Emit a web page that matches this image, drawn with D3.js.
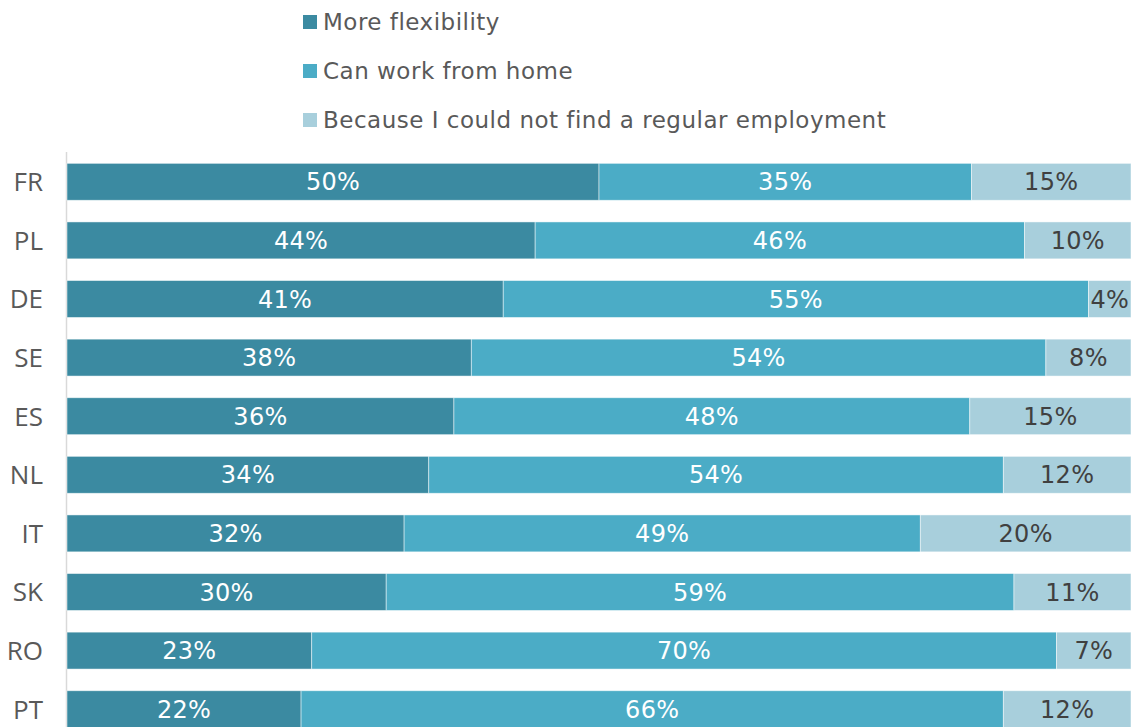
<!DOCTYPE html>
<html>
<head>
<meta charset="utf-8">
<script src="https://cdn.jsdelivr.net/npm/d3@7"></script>
<style>
  body { margin: 0; background: #fff; overflow: hidden; }
</style>
</head>
<body>
<div id="my_dataviz"></div>
<script>
// chart data
var countries = ["FR", "PL", "DE", "SE", "ES", "NL", "IT", "SK", "RO", "PT"];
var seriesNames = ["More flexibility", "Can work from home", "Because I could not find a regular employment"];
var flexibility = [50, 44, 41, 38, 36, 34, 32, 30, 23, 22];
var workFromHome = [35, 46, 55, 54, 48, 54, 49, 59, 70, 66];
var noRegularJob = [15, 10, 4, 8, 15, 12, 20, 11, 7, 12];
var colors = ["#3B8AA1", "#4BACC6", "#A8CFDC"];
var labelColors = ["#ffffff", "#ffffff", "#404040"];

var width = 1131, height = 727;

var svg = d3.select("#my_dataviz")
  .append("svg")
    .attr("width", width)
    .attr("height", height);

// build rows
var data = countries.map(function(c, i) {
  return {country: c, values: [flexibility[i], workFromHome[i], noRegularJob[i]]};
});

var yscale = d3.scaleBand()
  .domain(countries)
  .range([152.5, 152.5 + 58.6 * countries.length])
  .paddingInner(0.37)
  .paddingOuter(0.185);

var xscale = d3.scaleLinear()
  .domain([0, 1])
  .range([67, 1131]);

// axis line
svg.append("line")
  .attr("x1", 66.5).attr("x2", 66.5)
  .attr("y1", 152).attr("y2", height)
  .attr("stroke", "#d9d9d9")
  .attr("stroke-width", 1.5);

var rows = svg.append("g")
  .selectAll("g")
  .data(data)
  .enter().append("g")
    .attr("transform", function(d) { return "translate(0," + yscale(d.country) + ")"; });

var segs = rows.selectAll("g")
  .data(function(d) {
    var total = d3.sum(d.values), acc = 0;
    return d.values.map(function(v, k) {
      var s = {k: k, v: v, x0: acc / total, x1: (acc + v) / total};
      acc += v;
      return s;
    });
  })
  .enter().append("g");

segs.append("rect")
  .attr("x", function(d) { return xscale(d.x0); })
  .attr("y", 0)
  .attr("width", function(d) { return xscale(d.x1) - xscale(d.x0); })
  .attr("height", yscale.bandwidth())
  .attr("fill", function(d) { return colors[d.k]; })
  .attr("stroke", "#ffffff")
  .attr("stroke-opacity", 0.6)
  .attr("stroke-width", 0.8);

segs.append("text")
  .attr("x", function(d) { return (xscale(d.x0) + xscale(d.x1)) / 2; })
  .attr("y", yscale.bandwidth() / 2)
  .attr("dy", "0.36em")
  .attr("text-anchor", "middle")
  .style("font-family", "'DejaVu Sans', Verdana, sans-serif")
  .style("font-size", "24px")
  .style("letter-spacing", "0.3px")
  .attr("fill", function(d) { return labelColors[d.k]; })
  .text(function(d) { return d.v + "%"; });

// category labels
svg.append("g")
  .selectAll("text")
  .data(countries)
  .enter().append("text")
    .attr("x", 43)
    .attr("y", function(d) { return yscale(d) + yscale.bandwidth() / 2; })
    .attr("dy", "0.36em")
    .attr("text-anchor", "end")
    .style("font-family", "'Open Sans', sans-serif")
    .style("font-size", "26px")
    .attr("fill", "#595959")
    .text(function(d) { return d; });

// legend
var legend = svg.append("g")
  .selectAll("g")
  .data(seriesNames)
  .enter().append("g")
    .attr("transform", function(d, i) { return "translate(303," + (22 + i * 49) + ")"; });

legend.append("rect")
  .attr("x", 0).attr("y", -7)
  .attr("width", 14).attr("height", 14)
  .attr("fill", function(d, i) { return colors[i]; });

legend.append("text")
  .attr("x", 20)
  .attr("y", 0)
  .attr("dy", "0.36em")
  .style("font-family", "'DejaVu Sans', Verdana, sans-serif")
  .style("font-size", "23px")
  .style("letter-spacing", "0.5px")
  .attr("fill", "#595959")
  .text(function(d) { return d; });
</script>
</body>
</html>
